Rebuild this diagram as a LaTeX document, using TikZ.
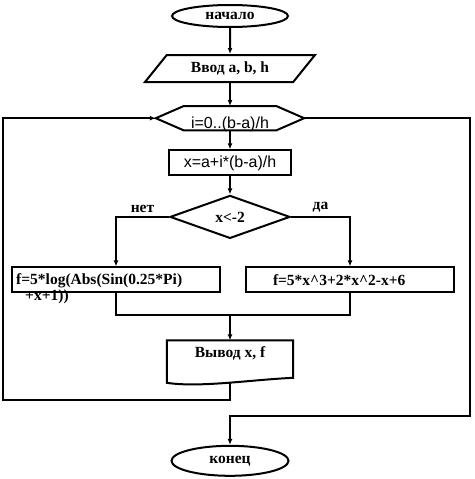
\documentclass[tikz,border=0pt]{standalone}
\usepackage{fontspec}
\setmainfont{Liberation Serif}
\newfontfamily\arialfont{Liberation Sans}
\usetikzlibrary{calc, shapes.geometric, arrows.meta, positioning}

\begin{document}
\begin{tikzpicture}[
        txt/.style = {font=\fontsize{15.5}{16}\selectfont\bfseries},
        sans/.style = {font=\arialfont\fontsize{16}{18}\selectfont},
        base/.style = {draw, txt, line width=2pt, inner sep=0pt},
        term/.style = {base, ellipse, minimum width=116pt},
        io/.style = {base, trapezium, trapezium left angle=45, trapezium right angle=135, trapezium stretches=true, minimum width=170pt, minimum height=27pt},
        hexa/.style = {sans, minimum width=148pt, inner sep=0pt, text height=22pt, text depth=2pt},
        proc/.style = {base, rectangle, minimum height=25pt},
        cond/.style = {base, diamond, minimum width=120pt, minimum height=43pt},
        doc/.style = {txt, minimum width=126pt, inner sep=0pt, text height=17pt, text depth=20pt},
        line/.style = {draw, line width=2pt},
        arrow/.style = {line, -{Latex[length=6pt, width=5pt]}}
    ]
        \useasboundingbox (0,0) rectangle (474pt,-479pt);

        \node (start) [term, minimum height=22pt] at (230pt,-16pt) {начало};
        \node (input) [io, below=26pt of start] {Ввод a, b, h};
        \node (loop) [hexa, below=23pt of input] {i=0..(b-a)/h};
        \node (calc) [proc, sans, minimum width=122pt, below=19pt of loop] {x=a+i*(b-a)/h};
        \node (dec) [cond, below=18pt of calc] {x<-2};
        \node (fL) [proc, minimum width=208pt, below=27pt of dec, xshift=-114pt] {};
        \node (fR) [proc, minimum width=208pt, text width=208pt, align=left, below=27pt of dec, xshift=120pt] {\hspace*{27pt}f=5*x\textasciicircum3+2*x\textasciicircum2-x+6};
        \node (out) [doc, below=101pt of dec] {Вывод x, f};
        \node (end) [term, minimum width=117pt, minimum height=30pt, below=67pt of out] {конец};

        \node [txt, anchor=north west, align=left, inner sep=0pt] at ([xshift=5pt, yshift=-7pt]fL.north west) {f=5*log(Abs(Sin(0.25*Pi)\\\hspace*{9pt}+x+1))};

        % контуры цикла и вывода
        \draw [line] (loop.west) -- ([xshift=28pt]loop.north west) -- ([xshift=-28pt]loop.north east) -- (loop.east) -- ([xshift=-28pt]loop.south east) -- ([xshift=28pt]loop.south west) -- cycle;
        \draw [line] ([yshift=-5pt]out.south west) -- (out.north west) -- (out.north east) -- (out.south east) .. controls +(-43pt,-2pt) and ([xshift=33pt, yshift=-10pt]out.south west) .. ([yshift=-5pt]out.south west) -- cycle;

        \draw [arrow] (start) -- (input);
        \draw [arrow] (input.south) -- (loop.north);
        \draw [arrow] (loop.south) -- (calc.north);
        \draw [arrow] (calc) -- (dec);
        \draw [arrow] (dec.west) -| node[txt, pos=0.25, above] {нет} (fL.north);
        \draw [arrow] (dec.east) -| node[txt, pos=0.25, above] {да} (fR.north);

        \coordinate (join) at ([yshift=25pt]out.north);
        \draw [line] (fL.south) |- (join) -| (fR.south);
        \draw [arrow] (join) -- (out.north);

        % возврат в цикл
        \coordinate (outb) at ([yshift=-5pt]out.south);
        \coordinate (back) at (3pt,-400pt);
        \draw [arrow] (outb) |- (back) |- (loop.west);

        % выход из цикла
        \coordinate (exit) at (470pt,-416pt);
        \draw [arrow] (loop.east) -| (exit) -| (end.north);

    \end{tikzpicture}
\end{document}
